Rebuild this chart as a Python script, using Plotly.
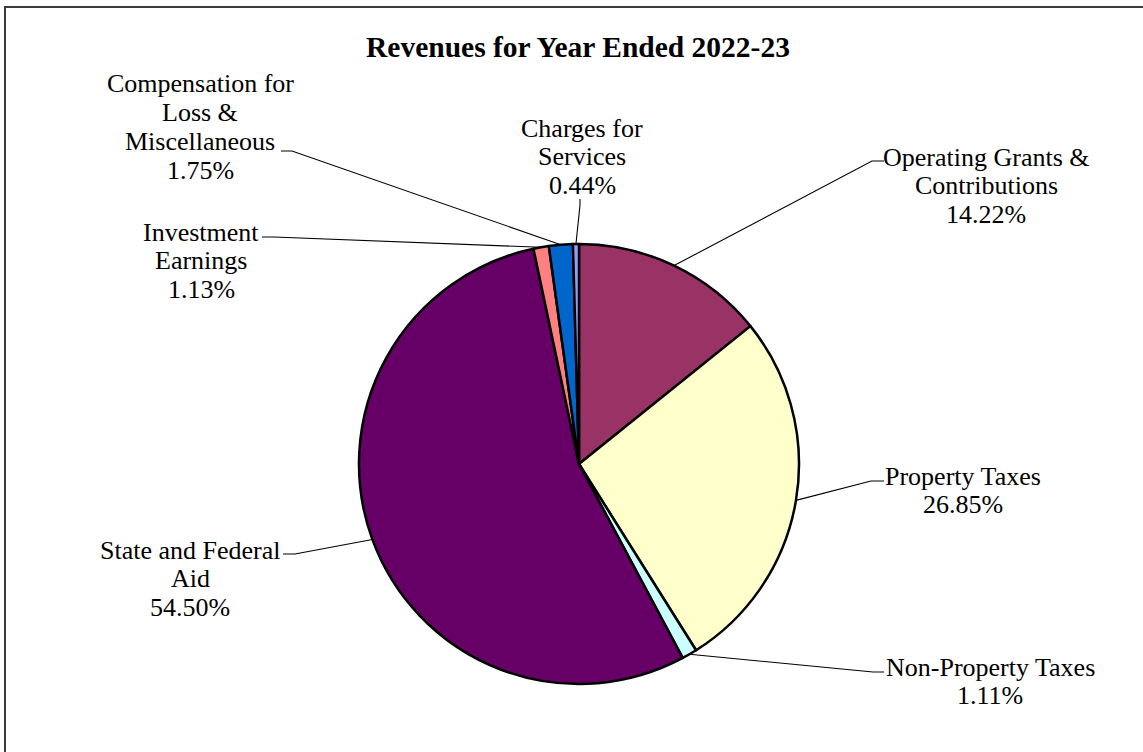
import math
import plotly.graph_objects as go

W, H = 1143, 752

# ---- data ----
categories = [
    "Operating Grants & Contributions",
    "Property Taxes",
    "Non-Property Taxes",
    "State and Federal Aid",
    "Investment Earnings",
    "Compensation for Loss & Miscellaneous",
    "Charges for Services",
]
values = [14.22, 26.85, 1.11, 54.50, 1.13, 1.75, 0.44]
label_lines = [
    ["Operating Grants &", "Contributions"],
    ["Property Taxes"],
    ["Non-Property Taxes"],
    ["State and Federal", "Aid"],
    ["Investment", "Earnings"],
    ["Compensation for", "Loss &", "Miscellaneous"],
    ["Charges for", "Services"],
]
colors = ["#993366", "#FFFFCC", "#CCFFFF", "#660066", "#FF8080", "#0066CC", "#9999FF"]
title_text = "Revenues for Year Ended 2022-23"

# ---- layout (pixels) ----
CX, CY, R = 579, 464, 220
FONT = "Liberation Serif, Times New Roman, serif"
LABEL_SIZE = 26
LINE_GAP = 28.8
# label center x, first-line y, leader start point, leader elbow point
label_pos = [
    dict(cx=986, y0=157, lx=884, ly=161, ex=872, ey=161),
    dict(cx=963, y0=476, lx=884, ly=481, ex=871, ey=481),
    dict(cx=990, y0=667, lx=884, ly=672, ex=873, ey=672),
    dict(cx=190, y0=550, lx=283, ly=554, ex=295, ey=554),
    dict(cx=201, y0=232, lx=262, ly=237, ex=274, ey=237),
    dict(cx=200, y0=84, lx=281, ly=151, ex=292, ey=151),
    dict(cx=582, y0=128, lx=580, ly=199, ex=580, ey=205),
]


def px(x):
    return x / W


def py(y):
    return 1 - y / H


fig = go.Figure(
    go.Pie(
        labels=categories,
        values=values,
        sort=False,
        direction="clockwise",
        rotation=0,
        textinfo="none",
        hoverinfo="label+percent",
        marker=dict(colors=colors, line=dict(color="black", width=2.5)),
        domain=dict(x=[px(CX - R), px(CX + R)], y=[py(CY + R), py(CY - R)]),
        showlegend=False,
    )
)

annotations = []
shapes = []
total = sum(values)
cum = 0.0
for i, (name, v) in enumerate(zip(categories, values)):
    pos = label_pos[i]
    lines = label_lines[i] + [f"{v / total * 100:.2f}%"]
    for k, line in enumerate(lines):
        annotations.append(dict(
            x=px(pos["cx"]), y=py(pos["y0"] + k * LINE_GAP),
            xref="paper", yref="paper", text=line, showarrow=False,
            xanchor="center", yanchor="middle",
            font=dict(family=FONT, size=LABEL_SIZE, color="black"),
        ))
    theta = math.radians((cum + v / 2) / total * 360)
    ax = CX + R * math.sin(theta)
    ay = CY - R * math.cos(theta)
    path = (f"M {px(pos['lx'])},{py(pos['ly'])} L {px(pos['ex'])},{py(pos['ey'])} "
            f"L {px(ax)},{py(ay)}")
    shapes.append(dict(type="path", xref="paper", yref="paper", path=path,
                       line=dict(color="black", width=1.1)))
    cum += v

# title
annotations.append(dict(
    x=px(578), y=py(47), xref="paper", yref="paper", text=f"<b>{title_text}</b>",
    showarrow=False, xanchor="center", yanchor="middle",
    font=dict(family=FONT, size=29.5, color="black"),
))

# chart frame (only left and top edges are visible in the crop)
shapes.append(dict(type="path", xref="paper", yref="paper",
                   path=f"M {px(5)},{py(H + 20)} L {px(5)},{py(7)} L {px(W + 20)},{py(7)}",
                   line=dict(color="#3c3c3c", width=2)))

fig.update_layout(
    width=W, height=H,
    margin=dict(l=0, r=0, t=0, b=0),
    paper_bgcolor="white", plot_bgcolor="white",
    annotations=annotations, shapes=shapes,
)

fig.write_html(
    "out.html",
    config={"displayModeBar": False},
    post_script="document.body.style.margin='0';document.body.style.overflow='hidden';",
)
